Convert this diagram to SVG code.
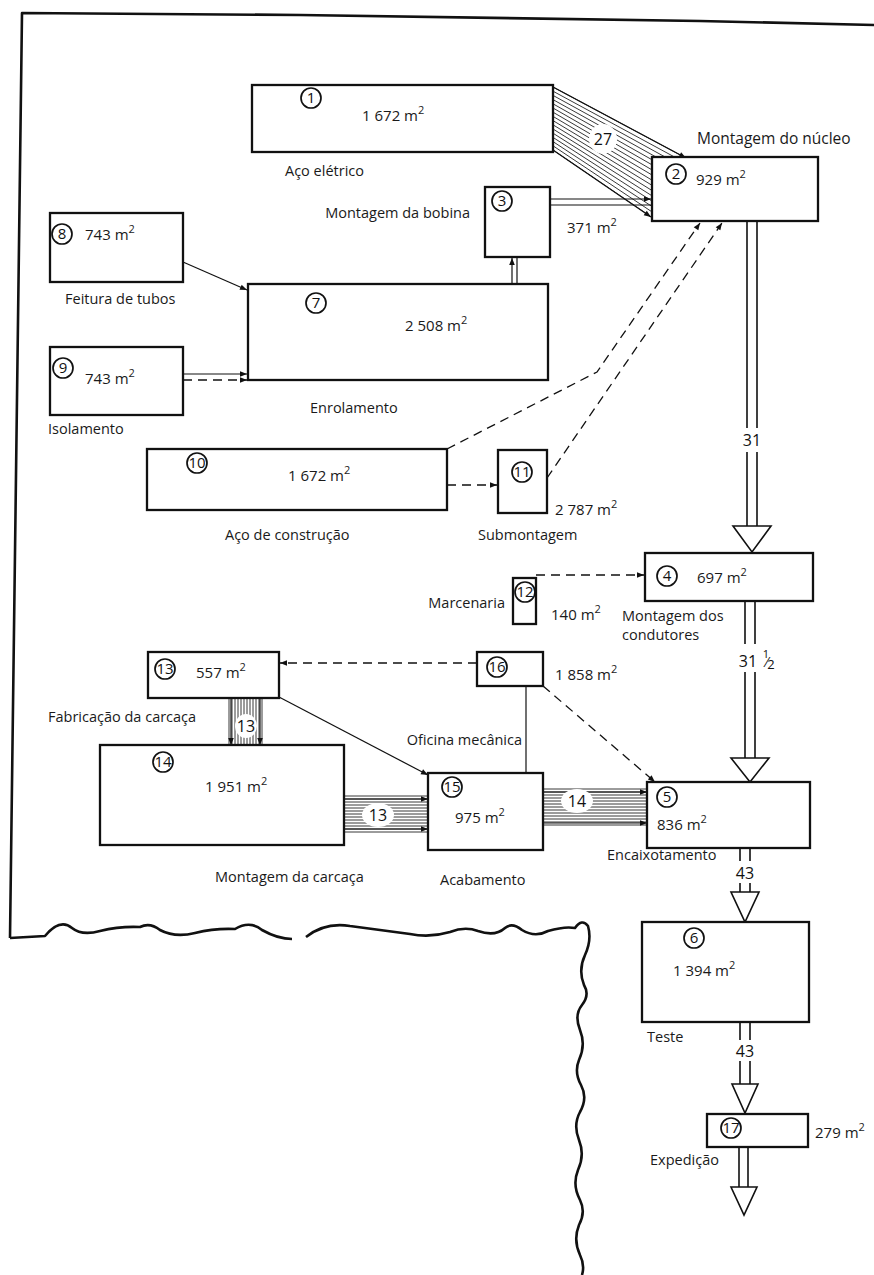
<svg xmlns="http://www.w3.org/2000/svg" width="874" height="1275" viewBox="0 0 874 1275">
<style>
  .bx{fill:#fff;stroke:#111;stroke-width:2.3}
  .cn{fill:none;stroke:#111;stroke-width:1.7}
  .lbl{font-family:"Open Sans","Liberation Sans",Arial,sans-serif;font-size:14.5px;fill:#1a1a1a}
  .ar{font-family:"Open Sans","Liberation Sans",Arial,sans-serif;font-size:15px;fill:#1a1a1a}
  .nm{font-family:"Open Sans","Liberation Sans",Arial,sans-serif;font-size:15px;fill:#111;text-anchor:middle}
  .fl{font-family:"Open Sans","Liberation Sans",Arial,sans-serif;font-size:16px;fill:#111;text-anchor:middle}
  .ln{fill:none;stroke:#111;stroke-width:1.2}
  .dl{fill:none;stroke:#111;stroke-width:1.3;stroke-dasharray:9 6}
  .ht{fill:none;stroke:#222;stroke-width:0.9}
  .pair{fill:none;stroke:#111;stroke-width:1.6}
  .tri{fill:#fff;stroke:#111;stroke-width:1.6;stroke-linejoin:miter}
  .gap{fill:#fff;stroke:none}
  .edge{fill:none;stroke:#111;stroke-width:2.6;stroke-linejoin:round}
</style>
<defs>
  <marker id="ah" viewBox="0 0 10 10" refX="10" refY="5" markerUnits="userSpaceOnUse" markerWidth="8" markerHeight="7" orient="auto">
    <path d="M0,1 L10,5 L0,9 z" fill="#111"/>
  </marker>
</defs>

<!-- sheet edge and torn bottom -->
<g id="sheet">
  <path class="edge" d="M874,25 L700,21 L300,15 L22,13 L10,938"/>
  <path class="edge" d="M10,938 L45,936 Q60,918 72,928 Q82,936 100,931 Q120,926 140,927 Q150,922 160,930 Q175,938 195,933 Q215,928 235,929 Q250,920 262,930 Q278,939 292,939"/>
  <path class="edge" d="M306,937 Q325,922 350,926 Q380,930 410,934 Q430,938 450,932 Q465,926 478,931 Q495,937 505,928 Q512,922 522,930 Q535,938 548,931 Q565,926 575,928 Q582,918 588,926 Q592,940 585,955 Q578,970 584,985 Q590,995 582,1005 Q574,1015 580,1030 Q586,1045 579,1060 Q574,1072 581,1085 Q588,1098 580,1112 Q573,1125 579,1140 Q585,1155 578,1170 Q572,1185 580,1200 Q586,1212 579,1225 Q573,1240 580,1255 Q585,1265 582,1275"/>
</g>

<g id="connectors">
  <!-- 1 to 2 : hatched band, 27 -->
  <path class="ht" d="M553,87 L684,157 M553,91.2 L681.7,160.9 M553,95.4 L679.5,164.9 M553,99.6 L677.2,168.8 M553,103.8 L674.9,172.7 M553,108 L672.7,176.7 M553,112.2 L670.4,180.6 M553,116.4 L668.1,184.5 M553,120.6 L665.9,188.5 M553,124.8 L663.6,192.4 M553,129 L661.3,196.3 M553,133.2 L659.1,200.3 M553,137.4 L656.8,204.2 M553,141.6 L654.5,208.1 M553,145.8 L652.3,212.1 M553,150 L650,216"/>
  <line class="ln" x1="553" y1="87" x2="686" y2="158" marker-end="url(#ah)"/>
  <line class="ln" x1="553" y1="150" x2="651" y2="217" marker-end="url(#ah)"/>
  <ellipse class="gap" cx="603" cy="139" rx="14" ry="15"/>
  <text class="fl" x="603" y="145">27</text>

  <!-- 3 to 2 -->
  <line class="ln" x1="550" y1="199" x2="651" y2="199" marker-end="url(#ah)"/>
  <line class="ln" x1="550" y1="205" x2="651" y2="205"/>

  <!-- 7 to 3 -->
  <line class="ln" x1="512" y1="284" x2="512" y2="258" marker-end="url(#ah)"/>
  <line class="ln" x1="517" y1="284" x2="517" y2="258"/>

  <!-- 8 to 7 -->
  <line class="ln" x1="183" y1="262" x2="247" y2="290" marker-end="url(#ah)"/>

  <!-- 9 to 7 -->
  <line class="ln" x1="183" y1="374" x2="247" y2="374" marker-end="url(#ah)"/>
  <line class="dl" x1="183" y1="380" x2="247" y2="380" marker-end="url(#ah)"/>

  <!-- 10 to 11, 10 to 2, 11 to 2 -->
  <line class="dl" x1="447" y1="485" x2="497" y2="485" marker-end="url(#ah)"/>
  <polyline class="dl" points="447,449 597,372 700,223" marker-end="url(#ah)"/>
  <line class="dl" x1="547" y1="478" x2="722" y2="223" marker-end="url(#ah)"/>

  <!-- 12 to 4 -->
  <line class="dl" x1="536" y1="575" x2="644" y2="575" marker-end="url(#ah)"/>

  <!-- 16 to 13, 16 to 5 -->
  <line class="dl" x1="477" y1="663" x2="280" y2="663" marker-end="url(#ah)"/>
  <line class="dl" x1="543" y1="686" x2="655" y2="782" marker-end="url(#ah)"/>

  <!-- 13 to 15, 16 to 15 -->
  <line class="ln" x1="279" y1="697" x2="428" y2="775" marker-end="url(#ah)"/>
  <line class="ln" x1="526" y1="686" x2="526" y2="773"/>

  <!-- 13 to 14 : hatched, 13 -->
  <path class="ht" d="M229,698 V745 M232,698 V745 M235,698 V745 M238,698 V745 M241,698 V745 M244,698 V745 M247,698 V745 M250,698 V745 M253,698 V745 M256,698 V745 M259,698 V745 M262,698 V745"/>
  <line class="ln" x1="231" y1="698" x2="231" y2="745" marker-end="url(#ah)"/>
  <line class="ln" x1="260" y1="698" x2="260" y2="745" marker-end="url(#ah)"/>
  <ellipse class="gap" cx="246" cy="726" rx="11" ry="12"/>
  <text class="fl" x="246" y="732">13</text>

  <!-- 14 to 15 : hatched, 13 -->
  <path class="ht" d="M344,796 H428 M344,799 H428 M344,802 H428 M344,805 H428 M344,808 H428 M344,811 H428 M344,814 H428 M344,817 H428 M344,820 H428 M344,823 H428 M344,826 H428 M344,829 H428 M344,832 H428"/>
  <line class="ln" x1="344" y1="799" x2="428" y2="799" marker-end="url(#ah)"/>
  <line class="ln" x1="344" y1="829" x2="428" y2="829" marker-end="url(#ah)"/>
  <ellipse class="gap" cx="378" cy="815" rx="16" ry="12"/>
  <text class="fl" x="378" y="821">13</text>

  <!-- 15 to 5 : hatched, 14 -->
  <path class="ht" d="M543,789 H647 M543,792 H647 M543,795 H647 M543,798 H647 M543,801 H647 M543,804 H647 M543,807 H647 M543,810 H647 M543,813 H647 M543,816 H647 M543,819 H647 M543,822 H647 M543,825 H647"/>
  <line class="ln" x1="543" y1="792" x2="647" y2="792" marker-end="url(#ah)"/>
  <line class="ln" x1="543" y1="823" x2="647" y2="823" marker-end="url(#ah)"/>
  <ellipse class="gap" cx="577" cy="801" rx="16" ry="12"/>
  <text class="fl" x="577" y="807">14</text>

  <!-- main line: 2 to 4, 31 -->
  <path class="pair" d="M747,221 V526 M757,221 V526"/>
  <rect class="gap" x="740" y="428" width="24" height="24"/>
  <text class="fl" x="752" y="446">31</text>
  <path class="tri" d="M733,526 L771,526 L752,552 Z"/>

  <!-- 4 to 5, 31 1/2 -->
  <path class="pair" d="M745,601 V758 M755,601 V758"/>
  <rect class="gap" x="736" y="644" width="40" height="28"/>
  <text class="fl" x="748" y="667">31</text>
  <text class="fl" x="766" y="658" style="font-size:11px">1</text>
  <text class="fl" x="767" y="667" style="font-size:14px">⁄</text>
  <text class="fl" x="771" y="669" style="font-size:13px">2</text>
  <path class="tri" d="M731,758 L769,758 L750,782 Z"/>

  <!-- 5 to 6, 43 -->
  <path class="pair" d="M740,848 V892 M750,848 V892"/>
  <rect class="gap" x="733" y="861" width="24" height="22"/>
  <text class="fl" x="745" y="879">43</text>
  <path class="tri" d="M731,892 L759,892 L745,922 Z"/>

  <!-- 6 to 17, 43 -->
  <path class="pair" d="M740,1022 V1084 M750,1022 V1084"/>
  <rect class="gap" x="733" y="1040" width="24" height="21"/>
  <text class="fl" x="745" y="1057">43</text>
  <path class="tri" d="M732,1084 L758,1084 L745,1113 Z"/>

  <!-- 17 outward -->
  <path class="pair" d="M739,1147 V1187 M748,1147 V1187"/>
  <path class="tri" d="M731,1187 L757,1187 L744,1215 Z"/>
</g>

<g id="node1">
  <rect class="bx" x="252" y="85" width="301" height="67"/>
  <circle class="cn" cx="311" cy="98" r="10"/><text class="nm" x="311" y="103">1</text>
  <text class="ar" x="362" y="121">1 672 m<tspan dy="-7" font-size="11">2</tspan></text>
  <text class="lbl" x="285" y="176">Aço elétrico</text>
</g>
<g id="node2">
  <rect class="bx" x="652" y="157" width="166" height="64"/>
  <circle class="cn" cx="676" cy="174" r="10"/><text class="nm" x="676" y="179">2</text>
  <text class="ar" x="696" y="185">929 m<tspan dy="-7" font-size="11">2</tspan></text>
  <text class="lbl" x="697" y="144" style="font-size:15.5px">Montagem do núcleo</text>
</g>
<g id="node3">
  <rect class="bx" x="485" y="187" width="65" height="70"/>
  <circle class="cn" cx="502" cy="201" r="10"/><text class="nm" x="502" y="206">3</text>
  <text class="lbl" x="470" y="218" text-anchor="end">Montagem da bobina</text>
  <text class="ar" x="567" y="233">371 m<tspan dy="-7" font-size="11">2</tspan></text>
</g>
<g id="node7">
  <rect class="bx" x="248" y="284" width="300" height="96"/>
  <circle class="cn" cx="316" cy="303" r="10"/><text class="nm" x="316" y="308">7</text>
  <text class="ar" x="405" y="331">2 508 m<tspan dy="-7" font-size="11">2</tspan></text>
  <text class="lbl" x="310" y="413">Enrolamento</text>
</g>
<g id="node8">
  <rect class="bx" x="50" y="213" width="133" height="69"/>
  <circle class="cn" cx="62" cy="234" r="10"/><text class="nm" x="62" y="239">8</text>
  <text class="ar" x="85" y="240">743 m<tspan dy="-7" font-size="11">2</tspan></text>
  <text class="lbl" x="65" y="304">Feitura de tubos</text>
</g>
<g id="node9">
  <rect class="bx" x="50" y="347" width="133" height="68"/>
  <circle class="cn" cx="63" cy="368" r="10"/><text class="nm" x="63" y="373">9</text>
  <text class="ar" x="85" y="384">743 m<tspan dy="-7" font-size="11">2</tspan></text>
  <text class="lbl" x="48" y="434">Isolamento</text>
</g>
<g id="node10">
  <rect class="bx" x="147" y="449" width="300" height="61"/>
  <circle class="cn" cx="197" cy="463" r="10"/><text class="nm" x="197" y="468">10</text>
  <text class="ar" x="288" y="481">1 672 m<tspan dy="-7" font-size="11">2</tspan></text>
  <text class="lbl" x="225" y="540">Aço de construção</text>
</g>
<g id="node11">
  <rect class="bx" x="498" y="450" width="49" height="63"/>
  <circle class="cn" cx="522" cy="472" r="10"/><text class="nm" x="522" y="477">11</text>
  <text class="ar" x="555" y="515">2 787 m<tspan dy="-7" font-size="11">2</tspan></text>
  <text class="lbl" x="478" y="540">Submontagem</text>
</g>
<g id="node12">
  <rect class="bx" x="513" y="578" width="23" height="46"/>
  <circle class="cn" cx="525" cy="592" r="10"/><text class="nm" x="525" y="597">12</text>
  <text class="lbl" x="505" y="608" text-anchor="end">Marcenaria</text>
  <text class="ar" x="551" y="620">140 m<tspan dy="-7" font-size="11">2</tspan></text>
</g>
<g id="node4">
  <rect class="bx" x="645" y="553" width="168" height="48"/>
  <circle class="cn" cx="667" cy="576" r="10"/><text class="nm" x="667" y="581">4</text>
  <text class="ar" x="697" y="583">697 m<tspan dy="-7" font-size="11">2</tspan></text>
  <text class="lbl" x="622" y="621">Montagem dos</text>
  <text class="lbl" x="622" y="640">condutores</text>
</g>
<g id="node13">
  <rect class="bx" x="148" y="652" width="131" height="46"/>
  <circle class="cn" cx="165" cy="669" r="10"/><text class="nm" x="165" y="674">13</text>
  <text class="ar" x="196" y="678">557 m<tspan dy="-7" font-size="11">2</tspan></text>
  <text class="lbl" x="48" y="722">Fabricação da carcaça</text>
</g>
<g id="node16">
  <rect class="bx" x="477" y="652" width="66" height="34"/>
  <circle class="cn" cx="497" cy="667" r="10"/><text class="nm" x="497" y="672">16</text>
  <text class="ar" x="555" y="680">1 858 m<tspan dy="-7" font-size="11">2</tspan></text>
  <text class="lbl" x="522" y="745" text-anchor="end">Oficina mecânica</text>
</g>
<g id="node14">
  <rect class="bx" x="100" y="745" width="244" height="100"/>
  <circle class="cn" cx="163" cy="762" r="10"/><text class="nm" x="163" y="767">14</text>
  <text class="ar" x="205" y="792">1 951 m<tspan dy="-7" font-size="11">2</tspan></text>
  <text class="lbl" x="215" y="882">Montagem da carcaça</text>
</g>
<g id="node15">
  <rect class="bx" x="428" y="773" width="115" height="77"/>
  <circle class="cn" cx="452" cy="787" r="10"/><text class="nm" x="452" y="792">15</text>
  <text class="ar" x="455" y="823">975 m<tspan dy="-7" font-size="11">2</tspan></text>
  <text class="lbl" x="440" y="885">Acabamento</text>
</g>
<g id="node5">
  <rect class="bx" x="647" y="782" width="163" height="66"/>
  <circle class="cn" cx="667" cy="797" r="10"/><text class="nm" x="667" y="802">5</text>
  <text class="ar" x="657" y="830">836 m<tspan dy="-7" font-size="11">2</tspan></text>
  <text class="lbl" x="607" y="860">Encaixotamento</text>
</g>
<g id="node6">
  <rect class="bx" x="642" y="922" width="167" height="100"/>
  <circle class="cn" cx="694" cy="938" r="10"/><text class="nm" x="694" y="943">6</text>
  <text class="ar" x="673" y="976">1 394 m<tspan dy="-7" font-size="11">2</tspan></text>
  <text class="lbl" x="647" y="1042">Teste</text>
</g>
<g id="node17">
  <rect class="bx" x="707" y="1114" width="101" height="33"/>
  <circle class="cn" cx="731" cy="1128" r="10"/><text class="nm" x="731" y="1133">17</text>
  <text class="ar" x="815" y="1138">279 m<tspan dy="-7" font-size="11">2</tspan></text>
  <text class="lbl" x="650" y="1165">Expedição</text>
</g>
</svg>
